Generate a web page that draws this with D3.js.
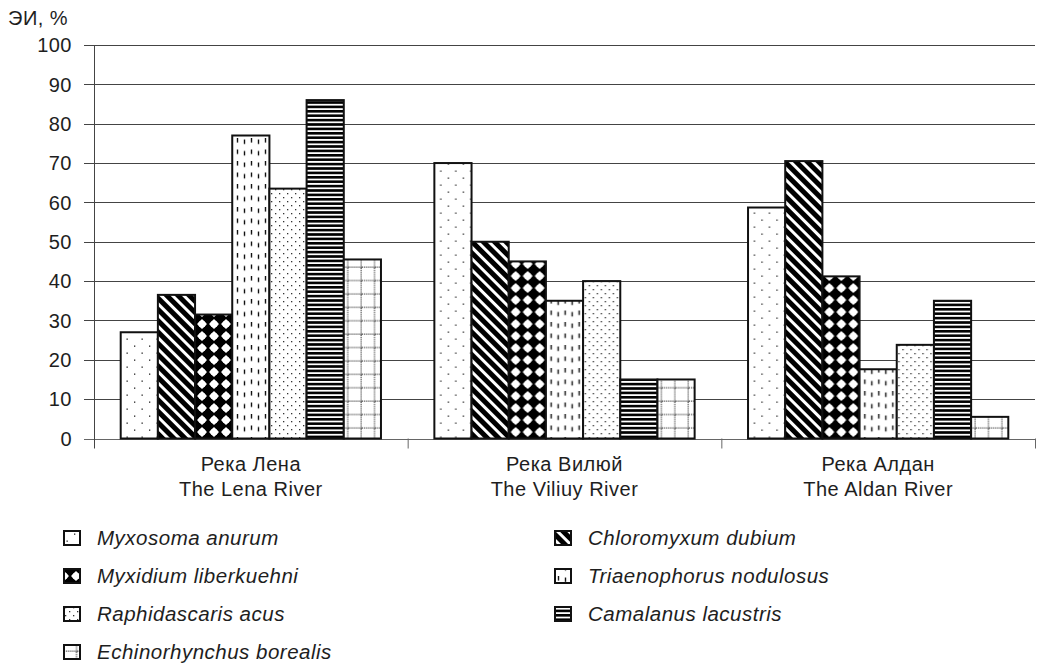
<!DOCTYPE html>
<html>
<head>
<meta charset="utf-8">
<script src="https://cdn.jsdelivr.net/npm/d3@7"></script>
<style>
  body { margin: 0; background: #fff; }
  text { font-family: "Liberation Sans", Arial, sans-serif; fill: #1e1e1e; letter-spacing: 0.5px; }
</style>
</head>
<body>
<script>
// data
var riversRu = ["Река Лена", "Река Вилюй", "Река Алдан"];
var riversEn = ["The Lena River", "The Viliuy River", "The Aldan River"];
var species = ["Myxosoma anurum", "Chloromyxum dubium", "Myxidium liberkuehni",
  "Triaenophorus nodulosus", "Raphidascaris acus", "Camalanus lacustris", "Echinorhynchus borealis"];
var lena   = [27, 36.5, 31.5, 77, 63.5, 86, 45.5];
var viliuy = [70, 50, 45, 35, 40, 15, 15];
var aldan  = [58.7, 70.5, 41.2, 17.6, 23.8, 35, 5.5];
var yTicks = [0, 10, 20, 30, 40, 50, 60, 70, 80, 90, 100];

var series = [lena, viliuy, aldan];

var W = 1038, H = 663;
var plotLeft = 94, plotRight = 1035, plotTop = 45, plotBottom = 438.5;

var svg = d3.select("body").append("svg")
    .attr("width", W)
    .attr("height", H);

var defs = svg.append("defs");

// hatch patterns, one per species
function pat(id, w, h) {
  var p = defs.append("pattern")
      .attr("id", id)
      .attr("patternUnits", "userSpaceOnUse")
      .attr("width", w)
      .attr("height", h);
  p.append("rect").attr("width", w).attr("height", h).attr("fill", "#fff");
  return p;
}

// sparse dots
var p0 = pat("p0", 15, 14);
p0.append("rect").attr("x", 2.5).attr("y", 2.5).attr("width", 1.3).attr("height", 1.3).attr("fill", "#222");
p0.append("rect").attr("x", 10).attr("y", 9.5).attr("width", 1.3).attr("height", 1.3).attr("fill", "#222");

// back-slash stripes
var p1 = pat("p1", 8, 8).attr("patternTransform", "rotate(-45)");
p1.append("rect").attr("x", 0).attr("y", 0).attr("width", 5).attr("height", 8).attr("fill", "#000");

// diamonds
var p2 = pat("p2", 12, 12);
p2.append("rect").attr("width", 12).attr("height", 12).attr("fill", "#000");
p2.append("path").attr("d", "M0,-5L5,0L0,5L-5,0Z M12,-5L17,0L12,5L7,0Z M0,7L5,12L0,17L-5,12Z M12,7L17,12L12,17L7,12Z")
    .attr("fill", "#fff");
[[0, 0], [12, 0], [0, 12], [12, 12]].forEach(function(c) {
  p2.append("circle").attr("cx", c[0]).attr("cy", c[1]).attr("r", 3.6).attr("fill", "#fff");
});

// vertical dashes
var p3 = pat("p3", 14, 11.5);
p3.append("rect").attr("x", 2.8).attr("y", 0).attr("width", 1.4).attr("height", 4.5).attr("fill", "#111");
p3.append("rect").attr("x", 9.8).attr("y", 1.5).attr("width", 1.4).attr("height", 4.5).attr("fill", "#111");

// dense dots
var p4 = pat("p4", 8, 8);
p4.append("rect").attr("x", 1).attr("y", 1).attr("width", 1.3).attr("height", 1.3).attr("fill", "#333");
p4.append("rect").attr("x", 5).attr("y", 5).attr("width", 1.3).attr("height", 1.3).attr("fill", "#333");

// horizontal stripes
var p5 = pat("p5", 5, 4.4);
p5.append("rect").attr("x", 0).attr("y", 0).attr("width", 5).attr("height", 2.6).attr("fill", "#000");

// dotted grid
var p6 = pat("p6", 13.4, 13.4);
for (var k = 0; k < 7; k++) {
  p6.append("rect").attr("x", k * 2).attr("y", 12).attr("width", 1.1).attr("height", 1.1).attr("fill", "#333");
  p6.append("rect").attr("x", 12).attr("y", k * 2).attr("width", 1.1).attr("height", 1.1).attr("fill", "#333");
}

var x0 = d3.scaleBand()
    .domain(riversRu)
    .range([plotLeft, plotRight]);

var gap = 26.7;
var x1 = d3.scaleBand()
    .domain(species)
    .range([gap, x0.bandwidth() - gap]);

var y = d3.scaleLinear()
    .domain([0, 100])
    .range([plotBottom, plotTop]);

// grid lines
svg.append("g").selectAll("line")
    .data(yTicks)
  .enter().append("line")
    .attr("x1", plotLeft - 10)
    .attr("x2", plotRight)
    .attr("y1", function(d) { return Math.round(y(d)) + 0.5; })
    .attr("y2", function(d) { return Math.round(y(d)) + 0.5; })
    .attr("stroke", function(d) { return d === 0 ? "#666" : "#444"; })
    .attr("stroke-width", 1.1);

// y axis
svg.append("line")
    .attr("x1", plotLeft + 0.5).attr("x2", plotLeft + 0.5)
    .attr("y1", plotTop).attr("y2", plotBottom + 10)
    .attr("stroke", "#444");

svg.append("g").selectAll("text")
    .data(yTicks)
  .enter().append("text")
    .attr("x", 72)
    .attr("y", function(d) { return y(d); })
    .attr("dy", "0.36em")
    .attr("text-anchor", "end")
    .style("font-size", "20px")
    .text(function(d) { return d; });

svg.append("text")
    .attr("x", 8)
    .attr("y", 25)
    .style("font-size", "20px")
    .text("ЭИ, %");

// category separators
svg.append("g").selectAll("line")
    .data(riversRu)
  .enter().append("line")
    .attr("x1", function(d) { return x0(d) + x0.bandwidth() + 0.5; })
    .attr("x2", function(d) { return x0(d) + x0.bandwidth() + 0.5; })
    .attr("y1", plotBottom)
    .attr("y2", plotBottom + 10)
    .attr("stroke", "#666");

// bars
var groups = svg.selectAll(".group")
    .data(series)
  .enter().append("g")
    .attr("class", "group")
    .attr("transform", function(d, i) { return "translate(" + x0(riversRu[i]) + ",0)"; });

groups.selectAll("rect")
    .data(function(d) { return d.map(function(v, j) { return {name: species[j], value: v, j: j}; }); })
  .enter().append("rect")
    .attr("x", function(d) { return x1(d.name); })
    .attr("width", x1.bandwidth())
    .attr("y", function(d) { return y(d.value); })
    .attr("height", function(d) { return plotBottom - y(d.value); })
    .attr("fill", function(d) { return "url(#p" + d.j + ")"; })
    .attr("stroke", "#111")
    .attr("stroke-width", 2);

// category labels
var labels = svg.append("g").selectAll("text")
    .data(riversRu)
  .enter().append("text")
    .attr("x", function(d) { return x0(d) + x0.bandwidth() / 2; })
    .attr("y", 471)
    .attr("text-anchor", "middle")
    .style("font-size", "20px");
labels.append("tspan").text(function(d) { return d; });
labels.append("tspan")
    .attr("x", function(d) { return x0(d) + x0.bandwidth() / 2; })
    .attr("dy", 25)
    .text(function(d, i) { return riversEn[i]; });

// legend, two columns
var legend = svg.selectAll(".legend")
    .data(species)
  .enter().append("g")
    .attr("class", "legend")
    .attr("transform", function(d, i) {
      var col = i % 2, row = Math.floor(i / 2);
      return "translate(" + (col ? 555 : 64) + "," + (538 + row * 38) + ")";
    });

legend.append("rect")
    .attr("x", 0)
    .attr("y", -7)
    .attr("width", 16)
    .attr("height", 14)
    .attr("fill", function(d, i) { return "url(#p" + i + ")"; })
    .attr("stroke", "#111")
    .attr("stroke-width", 2);

legend.append("text")
    .attr("x", 33)
    .attr("y", 0)
    .attr("dy", "0.36em")
    .style("font-size", "20.5px")
    .style("font-style", "italic")
    .text(function(d) { return d; });
</script>
</body>
</html>
